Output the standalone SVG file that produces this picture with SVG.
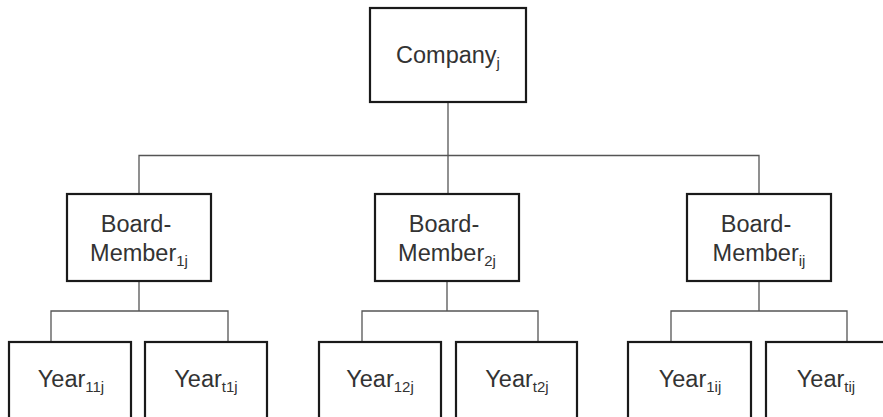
<svg xmlns="http://www.w3.org/2000/svg" width="883" height="417" viewBox="0 0 883 417">
<style>
.box{fill:#fff;stroke:#1a1a1a;stroke-width:2.2}
.conn{fill:none;stroke:#555;stroke-width:1.3}
.t{font-family:"Liberation Sans",Arial,sans-serif;font-size:23.5px;fill:#333;text-anchor:middle}
.s{font-size:15px}
</style>
<rect width="883" height="417" fill="#fff"/>
<g id="connectors">
<path class="conn" d="M448,102 V194"/>
<path class="conn" d="M139,194 V155.5 H759 V194"/>
<path class="conn" d="M139,281 V311 M51,342 V311 H228 V342"/>
<path class="conn" d="M447,281 V311 M362,342 V311 H538 V342"/>
<path class="conn" d="M759,281 V311 M671,342 V311 H847 V342"/>
</g>
<g id="company">
<rect class="box" x="370" y="8" width="156" height="94"/>
<text class="t" x="448" y="63">Company<tspan class="s" dy="5">j</tspan></text>
</g>
<g id="bm1">
<rect class="box" x="67" y="194" width="144" height="87"/>
<text class="t" x="136" y="232">Board-</text>
<text class="t" x="139" y="261">Member<tspan class="s" dy="5">1j</tspan></text>
</g>
<g id="bm2">
<rect class="box" x="375" y="194" width="144" height="87"/>
<text class="t" x="444" y="232">Board-</text>
<text class="t" x="447" y="261">Member<tspan class="s" dy="5">2j</tspan></text>
</g>
<g id="bmi">
<rect class="box" x="687" y="194" width="144" height="87"/>
<text class="t" x="756" y="232">Board-</text>
<text class="t" x="759" y="261">Member<tspan class="s" dy="5">ij</tspan></text>
</g>
<g id="y11j">
<rect class="box" x="9" y="342" width="122" height="90"/>
<text class="t" x="71" y="387">Year<tspan class="s" dy="5">11j</tspan></text>
</g>
<g id="yt1j">
<rect class="box" x="145" y="342" width="122" height="90"/>
<text class="t" x="206" y="387">Year<tspan class="s" dy="5">t1j</tspan></text>
</g>
<g id="y12j">
<rect class="box" x="319" y="342" width="122" height="90"/>
<text class="t" x="380" y="387">Year<tspan class="s" dy="5">12j</tspan></text>
</g>
<g id="yt2j">
<rect class="box" x="456" y="342" width="121" height="90"/>
<text class="t" x="517" y="387">Year<tspan class="s" dy="5">t2j</tspan></text>
</g>
<g id="y1ij">
<rect class="box" x="628" y="342" width="123" height="90"/>
<text class="t" x="690" y="387">Year<tspan class="s" dy="5">1ij</tspan></text>
</g>
<g id="ytij">
<rect class="box" x="766" y="342" width="122" height="90"/>
<text class="t" x="826" y="387">Year<tspan class="s" dy="5">tij</tspan></text>
</g>
</svg>
